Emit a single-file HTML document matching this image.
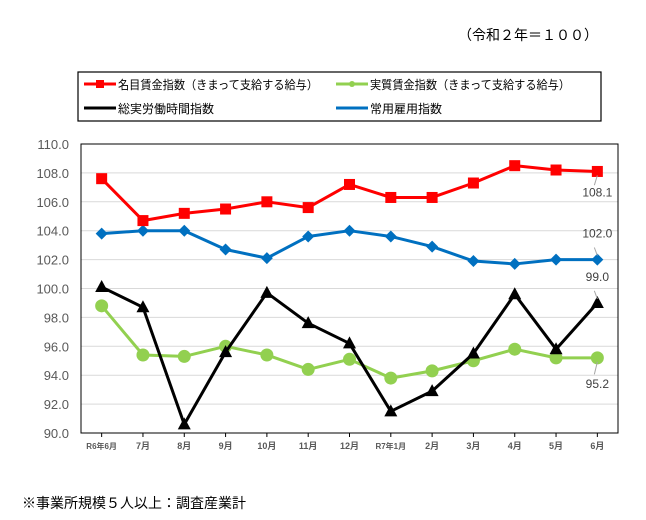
<!DOCTYPE html>
<html><head><meta charset="utf-8"><style>
body{margin:0;background:#fff;}
svg{display:block;font-family:"Liberation Sans","Noto Sans CJK JP",sans-serif;}
</style></head><body>
<svg id="chart" width="646" height="520" viewBox="0 0 646 520">
<text x="598" y="40" font-size="14" text-anchor="end" fill="#000">（令和２年＝１００）</text>
<g>
<rect x="78" y="72" width="523" height="49" fill="#fff" stroke="#000" stroke-width="1.2"/>
<g><line x1="84" y1="84" x2="116" y2="84" stroke="#f00" stroke-width="3"/><rect x="96" y="80" width="8" height="8" fill="#f00"/><text x="118" y="89" font-size="12" textLength="200" lengthAdjust="spacingAndGlyphs">名目賃金指数（きまって支給する給与）</text></g>
<g><line x1="336" y1="84" x2="368" y2="84" stroke="#92d050" stroke-width="3"/><circle cx="352" cy="84" r="3" fill="#92d050"/><text x="370" y="89" font-size="12" textLength="200" lengthAdjust="spacingAndGlyphs">実質賃金指数（きまって支給する給与）</text></g>
<g><line x1="84" y1="108" x2="116" y2="108" stroke="#000" stroke-width="3"/><text x="118" y="113" font-size="12">総実労働時間指数</text></g>
<g><line x1="336" y1="108" x2="368" y2="108" stroke="#0070c0" stroke-width="3"/><text x="370" y="113" font-size="12">常用雇用指数</text></g>
</g>
<g id="grid"></g>
<g id="axes"></g>
<g id="series"></g>
<text x="22" y="508" font-size="14" fill="#000">※事業所規模５人以上：調査産業計</text>
</svg>
<script>
const categories=["R6年6月","7月","8月","9月","10月","11月","12月","R7年1月","2月","3月","4月","5月","6月"];
const nominalWage=[107.6,104.7,105.2,105.5,106.0,105.6,107.2,106.3,106.3,107.3,108.5,108.2,108.1];
const employment=[103.8,104.0,104.0,102.7,102.1,103.6,104.0,103.6,102.9,101.9,101.7,102.0,102.0];
const hours=[100.1,98.7,90.6,95.6,99.7,97.6,96.2,91.5,92.9,95.5,99.6,95.8,99.0];
const realWage=[98.8,95.4,95.3,96.0,95.4,94.4,95.1,93.8,94.3,95.0,95.8,95.2,95.2];
const yTicks=[90,92,94,96,98,100,102,104,106,108,110];
const yMin=90,yMax=110;
const L=81,R=618,T=144,B=433;
const NS="http://www.w3.org/2000/svg";
const bw=(R-L)/categories.length;
function x(i){return L+bw*(i+0.5);}
function y(v){return B-(v-yMin)/(yMax-yMin)*(B-T);}
function mk(tag,attrs,parent){const e=document.createElementNS(NS,tag);for(const k in attrs)e.setAttribute(k,attrs[k]);parent.appendChild(e);return e;}
const grid=document.getElementById('grid'),axes=document.getElementById('axes'),ser=document.getElementById('series');
yTicks.forEach(t=>{
  if(t>yMin&&t<yMax){const g=mk('line',{x1:L,x2:R,y1:y(t),y2:y(t),stroke:'#d9d9d9','stroke-width':1},grid);
  
  }
  const lb=mk('text',{x:L-12,y:y(t)+5,'font-size':13,'text-anchor':'end',fill:'#595959'},axes);
  lb.textContent=t.toFixed(1);
  
  
});
const frame=mk('rect',{x:L,y:T,width:R-L,height:B-T,fill:'none',stroke:'#000','stroke-width':1},axes);


categories.forEach((c,i)=>{
  mk('line',{x1:x(i),x2:x(i),y1:B,y2:B+4,stroke:'#000'},axes);
  const isLong=c.length>3;
  const lb=mk('text',{x:x(i),y:B+16,'font-size':isLong?8:9,'font-weight':'bold','text-anchor':'middle',fill:'#595959'},axes);
  lb.textContent=c;
  
  
});
function drawSeries(vals,color,marker,name){
  const g=mk('g',{},ser);
  
  
  const p=mk('polyline',{points:vals.map((v,i)=>x(i)+','+y(v)).join(' '),fill:'none',stroke:color,'stroke-width':3,'stroke-linejoin':'round'},g);
  
  
  vals.forEach((v,i)=>{
    const cx=x(i),cy=y(v);let m;
    if(marker==='square')m=mk('rect',{x:cx-5.5,y:cy-5.5,width:11,height:11,fill:color},g);
    else if(marker==='circle')m=mk('circle',{cx:cx,cy:cy,r:6.5,fill:color},g);
    else if(marker==='diamond')m=mk('polygon',{points:`${cx},${cy-6} ${cx+6},${cy} ${cx},${cy+6} ${cx-6},${cy}`,fill:color},g);
    else m=mk('polygon',{points:`${cx},${cy-7} ${cx+6.5},${cy+5} ${cx-6.5},${cy+5}`,fill:color},g);
    
    
  });
}
drawSeries(employment,'#0070c0','diamond','employment-series');
drawSeries(realWage,'#92d050','circle','real-wage-series');
drawSeries(hours,'#000','triangle','hours-series');
drawSeries(nominalWage,'#f00','square','nominal-wage-series');
const li=categories.length-1;
function endLabel(v,dy,name){
  const lx=x(li);
  mk('line',{x1:lx,y1:y(v)+(dy>0?4:-4),x2:lx-3,y2:y(v)+dy*0.55,stroke:'#a6a6a6','stroke-width':1},ser);
  const t=mk('text',{x:lx,y:y(v)+dy,'font-size':12,'text-anchor':'middle',fill:'#404040'},ser);
  t.textContent=v.toFixed(1);
  
  
}
endLabel(nominalWage[li],25,'nominal-wage-end-label');
endLabel(employment[li],-22,'employment-end-label');
endLabel(hours[li],-22,'hours-end-label');
endLabel(realWage[li],30,'real-wage-end-label');
</script>
</body></html>
